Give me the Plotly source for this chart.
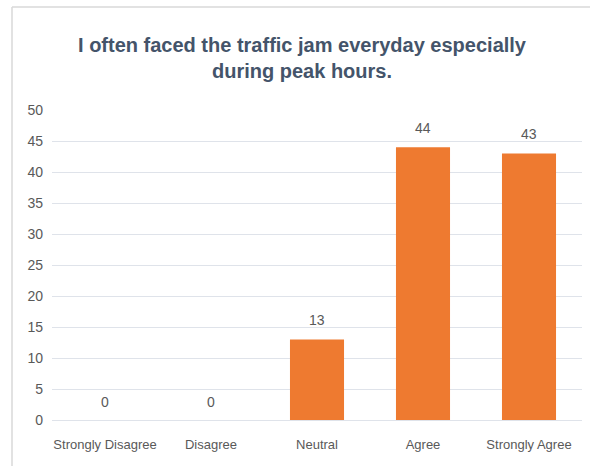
import plotly.graph_objects as go

categories = ["Strongly Disagree", "Disagree", "Neutral", "Agree", "Strongly Agree"]
values = [0, 0, 13, 44, 43]
y_ticks = [0, 5, 10, 15, 20, 25, 30, 35, 40, 45, 50]

W, H = 590, 466
ml, mr, mt, mb = 52, 8, 110, 46
pw = W - ml - mr
ph = H - mt - mb
FONT = "Liberation Sans, Arial, sans-serif"

fig = go.Figure()
fig.add_trace(go.Bar(
    x=categories, y=values,
    marker=dict(color="#EE7A30", line=dict(width=0)),
    cliponaxis=False,
))

for c, v in zip(categories, values):
    fig.add_annotation(x=c, y=v, text=str(v), showarrow=False, yanchor="bottom",
                       yshift=9 if v > 0 else 8,
                       font=dict(family=FONT, size=14, color="#595959"))

# outer chart border (left and top visible)
bx = (12 - ml) / pw
by = (H - mb - 7) / ph
fig.add_shape(type="line", xref="paper", yref="paper", x0=bx, x1=bx, y0=by, y1=-1,
              line=dict(color="#D9D9D9", width=1.5))
fig.add_shape(type="line", xref="paper", yref="paper", x0=bx, x1=1.5, y0=by, y1=by,
              line=dict(color="#D9D9D9", width=1.5))

fig.update_layout(
    width=W, height=H,
    margin=dict(l=ml, r=mr, t=mt, b=mb),
    paper_bgcolor="white", plot_bgcolor="white",
    bargap=0.49,
    showlegend=False,
    title=dict(
        text="I often faced the traffic jam everyday especially<br>during peak hours.",
        x=302 / W, xanchor="center", y=1 - 52 / H, yanchor="middle",
        font=dict(family=FONT, size=20, color="#44546A", weight="bold"),
    ),
    xaxis=dict(
        showgrid=False, showline=False, ticks="",
        tickfont=dict(family=FONT, size=13, color="#595959"),
        ticklabelstandoff=15,
    ),
    yaxis=dict(
        range=[0, 50], tickvals=y_ticks, showline=False, ticks="",
        gridcolor="#DFE3EA", gridwidth=1, zeroline=True, zerolinecolor="#DFE3EA", zerolinewidth=1,
        tickfont=dict(family=FONT, size=14, color="#595959"),
        ticklabelstandoff=8,
    ),
)

fig.write_html("out.html")
